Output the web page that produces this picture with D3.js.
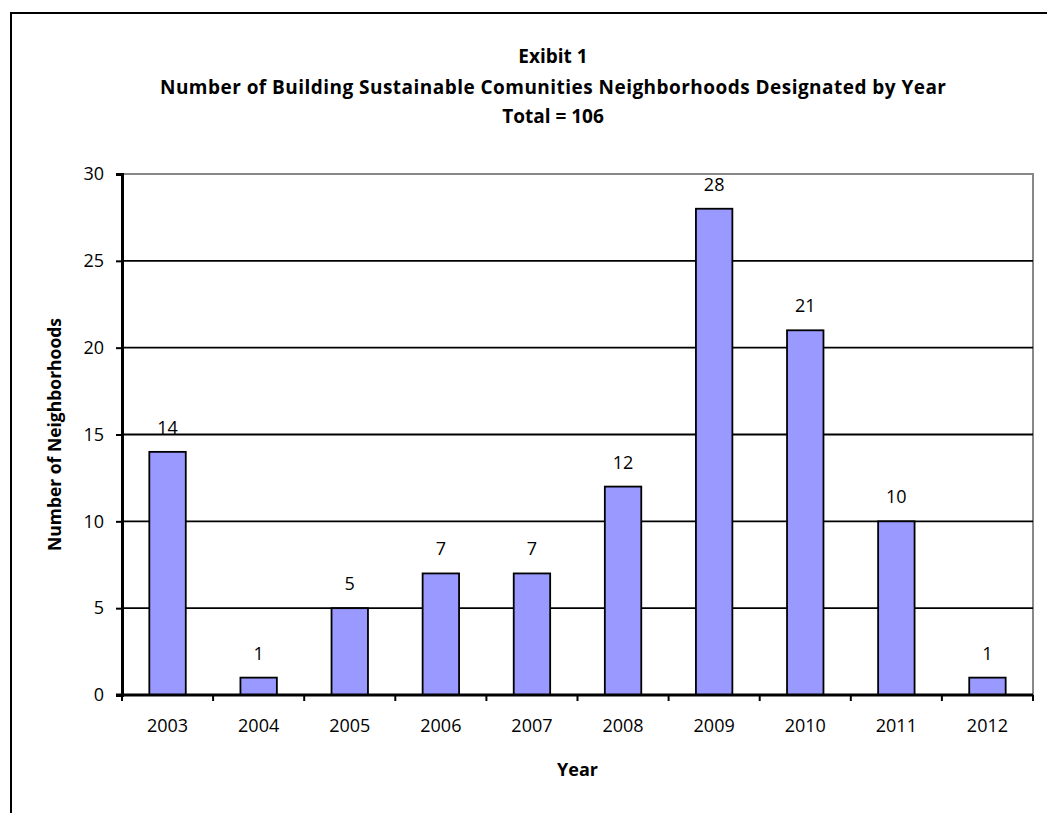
<!DOCTYPE html>
<html>
<head>
<meta charset="utf-8">
<script src="https://cdn.jsdelivr.net/npm/d3@7"></script>
<style>
  html, body { margin: 0; padding: 0; background: #fff; }
  svg { display: block; }
  text { font-family: "Open Sans", "Liberation Sans", sans-serif; fill: #000; }
</style>
</head>
<body>
<div id="chart"></div>
<script>
// Neighborhoods designated per year
const years = ["2003", "2004", "2005", "2006", "2007", "2008", "2009", "2010", "2011", "2012"];
const counts = [14, 1, 5, 7, 7, 12, 28, 21, 10, 1];
const yTicks = [0, 5, 10, 15, 20, 25, 30];
const titleLines = [
  "Exibit 1",
  "Number of Building Sustainable Comunities Neighborhoods  Designated by Year",
  "Total = 106"
];
const xTitle = "Year";
const yTitle = "Number of Neighborhoods";

const W = 1047, H = 813;
const plot = { left: 122, right: 1033, top: 174, bottom: 695 };

const svg = d3.select("#chart").append("svg")
  .attr("width", W).attr("height", H);

// outer chart frame (top and left edges visible)
svg.append("path")
  .attr("d", `M11,${H} L11,13 L${W},13`)
  .attr("fill", "none").attr("stroke", "#000").attr("stroke-width", 2);

const xBand = d3.scaleBand().domain(years).range([plot.left, plot.right]);
const y = d3.scaleLinear().domain([0, 30]).range([plot.bottom, plot.top]);

// plot area border (top/right)
svg.append("path")
  .attr("d", `M${plot.left},${plot.top} L${plot.right},${plot.top} L${plot.right},${plot.bottom}`)
  .attr("fill", "none").attr("stroke", "#888").attr("stroke-width", 2);

// horizontal gridlines
svg.append("g").selectAll("line")
  .data(yTicks.filter(t => t > 0 && t < 30))
  .join("line")
  .attr("x1", plot.left).attr("x2", plot.right)
  .attr("y1", d => y(d)).attr("y2", d => y(d))
  .attr("stroke", "#000").attr("stroke-width", 1.8);

// bars
svg.append("g").selectAll("rect")
  .data(years)
  .join("rect")
  .attr("x", d => xBand(d) + xBand.bandwidth() * 0.3)
  .attr("width", xBand.bandwidth() * 0.4)
  .attr("y", (d, i) => y(counts[i]))
  .attr("height", (d, i) => y(0) - y(counts[i]))
  .attr("fill", "#9999ff")
  .attr("stroke", "#000").attr("stroke-width", 1.8);

// value labels
svg.append("g").selectAll("text")
  .data(years)
  .join("text")
  .attr("x", d => xBand(d) + xBand.bandwidth() / 2)
  .attr("y", (d, i) => y(counts[i]) - 18)
  .attr("text-anchor", "middle")
  .attr("font-size", 18)
  .text((d, i) => counts[i]);

// y axis
const yAxis = svg.append("g")
  .attr("transform", `translate(${plot.left},0)`)
  .call(d3.axisLeft(y).tickValues(yTicks).tickSize(6).tickPadding(12));
yAxis.select(".domain").attr("stroke", "#000").attr("stroke-width", 3);
yAxis.selectAll(".tick line").attr("stroke", "#000").attr("stroke-width", 2);
yAxis.selectAll(".tick text").attr("font-size", 18).attr("font-family", "Open Sans, sans-serif");

// x axis with ticks at category boundaries
const xAxis = svg.append("g")
  .attr("transform", `translate(0,${plot.bottom})`);
xAxis.append("line")
  .attr("x1", plot.left - 6).attr("x2", plot.right)
  .attr("stroke", "#000").attr("stroke-width", 3);
const bounds = years.map(d => xBand(d)).concat([plot.right]);
xAxis.selectAll("line.tk")
  .data(bounds)
  .join("line").attr("class", "tk")
  .attr("x1", d => d).attr("x2", d => d)
  .attr("y1", 0).attr("y2", 6)
  .attr("stroke", "#000").attr("stroke-width", 2);
xAxis.selectAll("text")
  .data(years)
  .join("text")
  .attr("x", d => xBand(d) + xBand.bandwidth() / 2)
  .attr("y", 37)
  .attr("text-anchor", "middle")
  .attr("font-size", 18)
  .text(d => d);

// titles
const titleY = [63, 94, 123];
svg.append("g").selectAll("text")
  .data(titleLines)
  .join("text")
  .attr("x", 553)
  .attr("y", (d, i) => titleY[i])
  .attr("text-anchor", "middle")
  .attr("font-size", 19)
  .attr("font-weight", "bold")
  .each(function (d, i) {
    if (i === 1) d3.select(this).attr("textLength", 786).attr("lengthAdjust", "spacing");
  })
  .text(d => d);

svg.append("text")
  .attr("x", (plot.left + plot.right) / 2)
  .attr("y", 776)
  .attr("text-anchor", "middle")
  .attr("font-size", 18)
  .attr("font-weight", "bold")
  .text(xTitle);

svg.append("text")
  .attr("transform", `translate(61,${(plot.top + plot.bottom) / 2}) rotate(-90)`)
  .attr("text-anchor", "middle")
  .attr("font-size", 17.5)
  .attr("font-weight", "bold")
  .text(yTitle);
</script>
</body>
</html>
